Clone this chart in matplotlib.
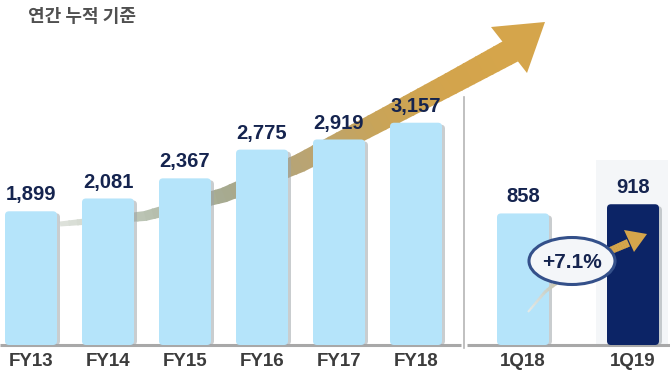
import numpy as np
import matplotlib.pyplot as plt
from matplotlib.patches import FancyBboxPatch, Polygon, Ellipse, Rectangle
from matplotlib.colors import to_rgb

plt.rcParams['font.family'] = ['Noto Sans CJK KR', 'DejaVu Sans']

# annual cumulative values
years = ['FY13', 'FY14', 'FY15', 'FY16', 'FY17', 'FY18']
year_values = [1899, 2081, 2367, 2775, 2919, 3157]
# quarterly comparison
quarters = ['1Q18', '1Q19']
quarter_values = [858, 918]
growth_label = '+7.1%'
title = '연간 누적 기준'

W, H = 670, 376
LIGHT = '#b5e4fa'
DARK = '#0c2466'
NAVY = '#15244f'
TICK = '#3c3c3c'
NUMFONT = 'Liberation Sans'

fig = plt.figure(figsize=(W / 100, H / 100), dpi=100)
fig.patch.set_facecolor('white')


def px_box(x0, x1, y_top, y_bot):
    # pixel box (top-left origin) -> figure fraction rect
    return [x0 / W, 1 - y_bot / H, (x1 - x0) / W, (y_bot - y_top) / H]


# background overlay in pixel coordinates for decorations
bg = fig.add_axes([0, 0, 1, 1], zorder=0)
bg.set_xlim(0, W)
bg.set_ylim(H, 0)
bg.axis('off')


def gradient_arrow(ax, pts, widths, colors, head_tip, head_l, head_r, head_color):
    pts = np.array(pts, float)
    for i in range(len(pts) - 1):
        p0, p1 = pts[i], pts[i + 1]
        d = p1 - p0
        n = np.array([-d[1], d[0]]) / np.hypot(*d)
        # subdivide for smooth colour change
        for k in range(10):
            t0, t1 = k / 10, (k + 1) / 10
            a = p0 + d * t0
            b = p0 + d * (t1 + 0.02)
            w0 = widths[i] + (widths[i + 1] - widths[i]) * t0
            w1 = widths[i] + (widths[i + 1] - widths[i]) * t1
            c0 = np.array(to_rgb(colors[i]))
            c1 = np.array(to_rgb(colors[i + 1]))
            c = c0 + (c1 - c0) * (t0 + t1) / 2
            quad = [a + n * w0 / 2, b + n * w1 / 2, b - n * w1 / 2, a - n * w0 / 2]
            ax.add_patch(Polygon(quad, closed=True, facecolor=c, edgecolor='none'))
    ax.add_patch(Polygon([head_l, head_tip, head_r], closed=True,
                         facecolor=head_color, edgecolor='none'))


# large growth arrow behind the annual bars
gradient_arrow(bg,
               [(60, 224), (145, 216), (224, 195), (300, 163), (380, 121), (450, 84), (511, 51)],
               [5, 10, 15, 19, 21, 23, 25],
               ['#dfe3dc', '#b9c2b2', '#a6aa90', '#b8a474', '#c9a458', '#d3a44c', '#d5a54b'],
               (545, 22), (491, 27), (527, 73), '#d5a54b')

# faint panel behind 1Q19
bg.add_patch(Rectangle((596, 160), 72, 185, facecolor='#f4f6f8', edgecolor='none'))

# divider and baselines
bg.plot([464, 464], [97, 348], color='#b5b5b5', lw=1.2)
bg.plot([0, 461], [345, 345], color='#a8a8a8', lw=2.2, solid_capstyle='butt')
bg.plot([467, 670], [345, 345], color='#a8a8a8', lw=2.2, solid_capstyle='butt')

bg.text(28, 17, title, fontsize=13, fontweight='bold', color='#505050',
        ha='left', va='center')


def draw_bars(ax, labels, values, colors, px_per_x, px_per_y, width):
    xs = np.arange(len(values))
    bars = ax.bar(xs, values, width=width, color=colors)
    aspect = px_per_x / px_per_y
    for b, col in zip(bars, colors):
        x0, w, h = b.get_x(), b.get_width(), b.get_height()
        b.remove()
        # soft shadow on the right
        ax.add_patch(FancyBboxPatch((x0 + 3 / px_per_x, 0), w, h - 2 / px_per_y,
                                    boxstyle='round,pad=0,rounding_size=%f' % (4 / px_per_x),
                                    mutation_aspect=aspect, facecolor='#9ea4a8',
                                    edgecolor='none', alpha=0.55, zorder=1))
        ax.add_patch(FancyBboxPatch((x0, 0), w, h,
                                    boxstyle='round,pad=0,rounding_size=%f' % (4 / px_per_x),
                                    mutation_aspect=aspect, facecolor=col,
                                    edgecolor='none', zorder=2))
    for x, v in zip(xs, values):
        ax.annotate(f'{v:,}', (x, v), xytext=(0, 5), textcoords='offset points',
                    ha='center', va='bottom', fontsize=14.5, fontweight='bold',
                    color=NAVY, family=NUMFONT, zorder=3)
    ax.set_xticks(xs)
    ax.set_xticklabels(labels, fontsize=13.5, fontweight='bold', color=TICK,
                       family=NUMFONT)
    ax.tick_params(axis='x', length=0, pad=6)
    ax.set_yticks([])
    for s in ax.spines.values():
        s.set_visible(False)
    ax.patch.set_alpha(0)


# left panel: annual
ax1 = fig.add_axes(px_box(0, 460, 0, 345), zorder=1)
step1 = 77.0
ax1.set_xlim(-31 / step1, (460 - 31) / step1)
ymax1 = 4900
ax1.set_ylim(0, ymax1)
draw_bars(ax1, years, year_values, [LIGHT] * len(years), step1, 345 / ymax1, 52 / step1)

# right panel: quarterly
ax2 = fig.add_axes(px_box(478, 670, 0, 345), zorder=1)
step2 = 110.0
ax2.set_xlim(-45 / step2, (192 - 45) / step2)
ymax2 = 2250
ax2.set_ylim(0, ymax2)
draw_bars(ax2, quarters, quarter_values, [LIGHT, DARK], step2, 345 / ymax2, 52 / step2)

# small growth arrow and badge on top
top = fig.add_axes([0, 0, 1, 1], zorder=5)
top.set_xlim(0, W)
top.set_ylim(H, 0)
top.axis('off')
top.patch.set_alpha(0)
gradient_arrow(top,
               [(528, 312), (545, 292), (570, 272), (605, 253), (628, 243)],
               [2, 3, 5, 7, 8],
               ['#e6ebe8', '#cdd3cc', '#c9b88a', '#d3a44c', '#d5a54b'],
               (647, 234), (624, 230), (634, 252), '#d5a54b')
top.add_patch(Ellipse((572, 261), 86, 47, facecolor='#f4f6f9',
                      edgecolor='#34508a', lw=2.2))
top.text(572, 262, growth_label, ha='center', va='center', fontsize=15,
         fontweight='bold', color=NAVY, family=NUMFONT)

fig.savefig('out.png', dpi=100)
